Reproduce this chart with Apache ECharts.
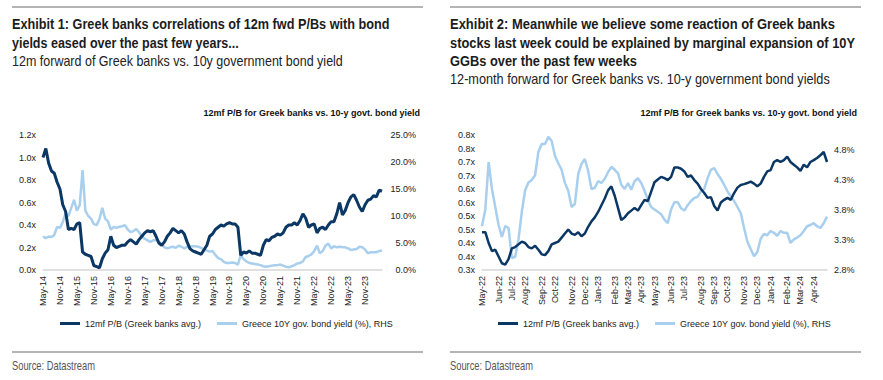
<!DOCTYPE html>
<html><head><meta charset="utf-8">
<script src="https://cdn.jsdelivr.net/npm/echarts@6/dist/echarts.min.js"></script>
<style>html,body{margin:0;padding:0;background:#fff}#c{width:883px;height:380px}</style>
</head><body><div id="c"></div>
<script>
// ---------- data ----------
const leftStart = [2014, 4]; // May 2014, monthly
const pbMonthly = [1.00,1.08,0.95,0.88,0.86,0.78,0.72,0.58,0.52,0.36,
0.37,0.36,0.41,0.42,0.16,0.14,0.13,0.12,0.04,0.03,
0.02,0.10,0.15,0.18,0.30,0.22,0.20,0.21,0.22,0.22,
0.25,0.27,0.25,0.23,0.27,0.30,0.33,0.35,0.34,0.35,
0.30,0.24,0.22,0.25,0.30,0.33,0.37,0.35,0.33,0.35,
0.32,0.25,0.19,0.17,0.16,0.15,0.14,0.18,0.22,0.30,
0.32,0.36,0.38,0.40,0.39,0.41,0.42,0.41,0.41,0.38,
0.13,0.16,0.15,0.17,0.15,0.15,0.14,0.13,0.22,0.27,
0.26,0.29,0.30,0.32,0.31,0.33,0.38,0.40,0.40,0.42,
0.40,0.44,0.50,0.46,0.38,0.40,0.41,0.33,0.37,0.38,
0.36,0.40,0.43,0.43,0.50,0.60,0.49,0.53,0.60,0.65,
0.67,0.62,0.56,0.52,0.58,0.62,0.63,0.66,0.65,0.71,
0.70];
const yieldMonthly = [6.2,5.9,6.2,6.1,6.5,8.0,7.8,8.9,10.5,10.0,
11.5,13.0,11.0,12.0,18.5,11.0,10.0,9.5,8.5,8.3,
9.5,11.5,9.5,9.0,7.5,8.0,7.8,8.0,8.1,8.3,
7.5,7.0,7.2,7.6,7.0,6.2,5.8,5.5,5.2,5.5,
5.5,5.3,4.8,4.2,4.0,4.2,4.3,4.1,4.5,4.3,
4.0,4.3,4.3,4.4,4.4,4.3,4.1,3.8,3.6,3.4,
3.5,2.8,2.2,2.0,1.5,1.3,1.3,1.4,1.3,1.0,
2.8,2.0,1.6,1.3,1.2,1.1,1.0,0.9,0.7,0.6,
0.7,0.8,0.9,0.9,1.0,0.8,0.6,0.5,0.7,0.9,
1.2,1.3,1.6,2.4,2.6,2.9,3.5,4.5,3.1,3.5,
4.5,4.9,4.0,4.4,4.2,4.3,4.2,4.2,4.0,3.7,
3.8,3.9,4.3,4.2,3.8,3.1,3.3,3.3,3.3,3.5,
3.6];
const rightStart = '2022-05-02'; // weekly
const pbWeekly = [0.44,0.44,0.40,0.37,0.375,0.35,0.325,0.32,0.34,0.38,
0.385,0.395,0.405,0.40,0.385,0.38,0.39,0.375,0.358,0.355,
0.37,0.395,0.40,0.405,0.42,0.435,0.45,0.435,0.43,0.44,
0.425,0.435,0.46,0.48,0.495,0.515,0.54,0.565,0.595,0.61,
0.575,0.53,0.485,0.495,0.51,0.52,0.53,0.52,0.54,0.56,
0.555,0.59,0.625,0.635,0.645,0.64,0.633,0.645,0.68,0.68,
0.675,0.665,0.645,0.65,0.633,0.62,0.60,0.585,0.567,0.57,
0.537,0.52,0.55,0.56,0.567,0.56,0.585,0.605,0.615,0.618,
0.622,0.627,0.62,0.61,0.62,0.645,0.665,0.67,0.70,0.707,
0.70,0.707,0.72,0.70,0.69,0.68,0.667,0.69,0.68,0.70,
0.707,0.715,0.725,0.737,0.70];
const yieldWeekly = [3.48,3.76,4.55,4.10,3.80,3.50,3.30,3.48,3.45,2.95,
2.97,3.26,3.72,4.08,4.21,4.25,4.33,4.72,4.85,4.85,
4.97,4.90,4.65,4.53,4.42,4.20,4.07,3.80,3.85,4.35,
4.52,4.60,4.40,4.10,4.12,4.23,4.20,4.27,4.38,4.47,
4.42,4.36,4.17,4.10,4.20,4.09,4.23,4.28,4.20,4.07,
3.92,3.80,3.76,3.72,3.68,3.59,3.53,3.76,3.88,3.88,
3.78,3.74,3.83,3.90,3.95,3.97,4.06,4.10,4.28,4.42,
4.45,4.35,4.27,4.17,4.06,3.98,3.90,3.80,3.70,3.45,
3.22,3.10,2.98,3.05,3.27,3.35,3.33,3.40,3.37,3.32,
3.40,3.37,3.37,3.20,3.26,3.29,3.33,3.40,3.48,3.50,
3.53,3.48,3.45,3.53,3.64];
const leftTicksPB = [0, 1.2, 0.2];
const leftTicksYield = [0, 25, 5];
const rightTicksPB = [0.3, 0.8, 0.05];
const rightTicksYield = [2.75, 5.0, 0.5];
const seriesNames = ['12mf P/B (Greek banks avg.)', 'Greece 10Y gov. bond yield (%), RHS'];
const title1 = ['Exhibit 1: Greek banks correlations of 12m fwd P/Bs with bond', 'yields eased over the past few years...'];
const sub1 = '12m forward of Greek banks vs. 10y government bond yield';
const title2 = ['Exhibit 2: Meanwhile we believe some reaction of Greek banks', 'stocks last week could be explained by marginal expansion of 10Y', 'GGBs over the past few weeks'];
const sub2 = '12-month forward for Greek banks vs. 10-y government bond yields';
const chartTitle = '12mf P/B for Greek banks vs. 10-y govt. bond yield';
const sourceText = 'Source: Datastream';

// ---------- categories ----------
const MON = ['Jan','Feb','Mar','Apr','May','Jun','Jul','Aug','Sep','Oct','Nov','Dec'];
const leftCats = pbMonthly.map((_, i) => {
  const m = (leftStart[1] + i) % 12, y = leftStart[0] + Math.floor((leftStart[1] + i) / 12);
  return MON[m] + '-' + String(y).slice(2);
});
const rightDates = pbWeekly.map((_, i) => { const d = new Date(rightStart + 'T00:00:00Z'); d.setUTCDate(d.getUTCDate() + 7 * i); return d; });
const rightCats = rightDates.map(d => MON[d.getUTCMonth()] + '-' + String(d.getUTCFullYear()).slice(2));

// ---------- style ----------
const DARK = '#0b3764', LIGHT = '#a9cfee';
const SANS = "'Liberation Sans',Arial,sans-serif";
const ctx = document.createElement('canvas').getContext('2d');
const measure = (t, font) => { ctx.font = font; return ctx.measureText(t).width; };
// narrow-looking text: Liberation Sans condensed horizontally to the reference line width
const narrow = (x, y, text, font, fill, targetW) => {
  const sx = targetW / measure(text, font);
  return { type: 'text', x, y, scaleX: sx, scaleY: 1, style: { text, font, fill, align: 'left', verticalAlign: 'middle', textAlign: 'left', textVerticalAlign: 'middle' } };
};
const txt = (x, y, text, font, fill, align) => ({ type: 'text', x, y, style: { text, font, fill: fill || '#1f1f1f', align: align || 'left', verticalAlign: 'middle', textAlign: align || 'left', textVerticalAlign: 'middle' } });
const rule = (x1, x2, y) => ({ type: 'line', shape: { x1, y1: y, x2, y2: y }, style: { stroke: '#9b9b9b', lineWidth: 1.5 } });
const r1 = v => (Math.round(v * 10 + 1e-6) / 10).toFixed(1);
const TB = 'bold 14.5px ' + SANS, TR = '14px ' + SANS, TC = '#1c1c1c';

const graphic = [
  rule(12, 423, 7), rule(450, 861, 7), rule(12, 423, 352), rule(450, 861, 352),
  narrow(12, 24, title1[0], TB, TC, 378), narrow(12, 43, title1[1], TB, TC, 227),
  narrow(12, 61, sub1, TR, '#222', 331),
  narrow(450, 24, title2[0], TB, TC, 385), narrow(450, 43, title2[1], TB, TC, 405),
  narrow(450, 61, title2[2], TB, TC, 187),
  narrow(450, 79, sub2, TR, '#222', 380),
  txt(420, 113, chartTitle, 'bold 9px ' + SANS, '#111', 'right'),
  txt(857, 113, chartTitle, 'bold 9px ' + SANS, '#111', 'right'),
  narrow(12, 365, sourceText, '12.5px ' + SANS, '#555', 83),
  narrow(450, 365, sourceText, '12.5px ' + SANS, '#555', 83)
];

const xAx = (gi, cats, intervalFn) => ({
  type: 'category', gridIndex: gi, data: cats, boundaryGap: false,
  axisLine: { lineStyle: { color: '#d6d6d6', width: 1.5 } }, axisTick: { show: false },
  axisLabel: { rotate: 90, fontSize: 9, fontFamily: SANS, color: '#222', margin: 6, interval: intervalFn }
});
const yAx = (gi, pos, t, fmt, extra) => Object.assign({
  type: 'value', gridIndex: gi, position: pos, min: t[0], max: t[1], interval: t[2],
  splitLine: { show: false }, axisLine: { show: false }, axisTick: { show: false },
  axisLabel: { fontSize: 9, fontFamily: SANS, color: '#222', formatter: fmt, margin: 7 }
}, extra || {});

const lineS = (name, xi, yi, data, color, w, z) => ({
  name, type: 'line', xAxisIndex: xi, yAxisIndex: yi, data, symbol: 'none', smooth: false,
  lineStyle: { color, width: w }, itemStyle: { color }, z, animation: false
});

const legend = (left) => ({
  left, top: 314, itemWidth: 20, itemHeight: 3, icon: 'rect', itemGap: 16,
  textStyle: { fontSize: 9, fontFamily: SANS, color: '#222' }, data: seriesNames, selectedMode: false
});

const chart = echarts.init(document.getElementById('c'), null, { renderer: 'svg' });
chart.setOption({
  animation: false,
  backgroundColor: '#fff',
  graphic,
  legend: [legend(55), legend(493)],
  grid: [
    { left: 43, width: 339, top: 135, height: 135 },
    { left: 482, width: 345, top: 135, height: 135 }
  ],
  xAxis: [
    xAx(0, leftCats, i => i % 6 === 0 && i <= 114),
    xAx(1, rightCats, i => i === 0 || rightDates[i].getUTCMonth() !== rightDates[i - 1].getUTCMonth())
  ],
  yAxis: [
    yAx(0, 'left', leftTicksPB, v => r1(v) + 'x'),
    yAx(0, 'right', leftTicksYield, v => v.toFixed(1) + '%', { axisLabel: { fontSize: 9, fontFamily: SANS, color: '#222', formatter: v => v.toFixed(1) + '%', margin: 34, align: 'right' } }),
    yAx(1, 'left', rightTicksPB, v => r1(v) + 'x'),
    yAx(1, 'right', rightTicksYield, v => v > 4.8 ? '' : r1(v) + '%', { axisLabel: { fontSize: 9, fontFamily: SANS, color: '#222', formatter: v => v > 4.8 ? '' : r1(v) + '%', margin: 7 } })
  ],
  series: [
    lineS(seriesNames[0], 0, 0, pbMonthly, DARK, 3, 3),
    lineS(seriesNames[1], 0, 1, yieldMonthly, LIGHT, 2.5, 2),
    lineS(seriesNames[0], 1, 2, pbWeekly, DARK, 2.5, 3),
    lineS(seriesNames[1], 1, 3, yieldWeekly, LIGHT, 2.5, 2)
  ]
});
</script></body></html>
